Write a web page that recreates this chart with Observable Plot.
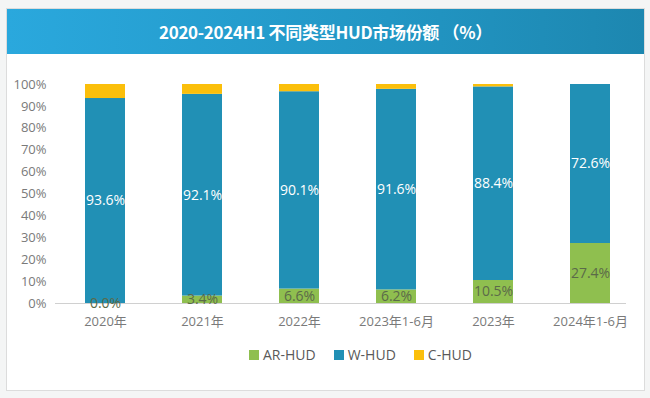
<!DOCTYPE html>
<html><head><meta charset="utf-8">
<script src="https://cdn.jsdelivr.net/npm/d3@7"></script>
<script src="https://cdn.jsdelivr.net/npm/@observablehq/plot@0.6"></script>
<style>
html,body{margin:0;padding:0;}
body{width:650px;height:398px;background:#f4f5f5;position:relative;overflow:hidden;font-family:"Open Sans","Noto Sans CJK SC",sans-serif;}
#card{position:absolute;left:6px;top:8px;width:637px;height:381px;background:#fff;border:1px solid #dcdcdc;}
#title{position:absolute;left:0;top:0;width:637px;height:45px;background:linear-gradient(90deg,#2aa8dd 0%,#2296c4 60%,#1d87b0 100%);color:#fff;font-family:"Noto Sans CJK SC",sans-serif;font-weight:700;font-size:17px;line-height:45px;text-align:center;letter-spacing:-0.3px;}
#chart{position:absolute;left:0;top:52px;}
#legend{position:absolute;left:242px;top:336px;display:flex;gap:18px;font-size:14px;color:#595959;font-family:"Open Sans","Noto Sans CJK SC",sans-serif;}
#legend span{display:flex;align-items:center;gap:4px;}
#legend i{display:inline-block;width:10px;height:10px;}
</style></head>
<body>
<div id="card">
  <div id="title">2020-2024H1 不同类型HUD市场份额 （%）</div>
  <div id="chart"></div>
  <div id="legend"></div>
</div>
<script>
const categories = ["2020年","2021年","2022年","2023年1-6月","2023年","2024年1-6月"];
const types = ["AR-HUD","W-HUD","C-HUD"];
const colors = ["#8fbf4f","#2190b5","#fbbf0b"];
const arHud = [0.0, 3.4, 6.6, 6.2, 10.5, 27.4];
const wHud  = [93.6, 92.1, 90.1, 91.6, 88.4, 72.6];
const cHud  = [6.4, 4.5, 3.3, 2.2, 1.1, 0.0];
const yTicks = [0,10,20,30,40,50,60,70,80,90,100];

const series = [arHud, wHud, cHud];
const data = [];
categories.forEach((c,i) => types.forEach((t,j) => data.push({cat:c, type:t, value:series[j][i]})));

const chart = Plot.plot({
  width: 637,
  height: 276,
  marginTop: 23,
  marginBottom: 34,
  marginLeft: 48,
  marginRight: 18,
  style: {fontFamily: '"Open Sans","Noto Sans CJK SC",sans-serif', fontSize: "13px", color: "#7a7a7a", background: "transparent"},
  x: {domain: categories, paddingInner: 0.59, paddingOuter: 0.2315, align: 0.643, label: null, tickSize: 0, tickPadding: 13},
  y: {domain: [0,100], ticks: yTicks, tickFormat: d => d + "%", label: null, tickSize: 0, tickPadding: 9},
  color: {domain: types, range: colors},
  marks: [
    Plot.barY(data, {x: "cat", y: "value", fill: "type", order: types}),
    Plot.ruleY([0], {stroke: "#d0d0d0", strokeWidth: 1.2}),
    Plot.text(data.filter(d => d.type !== "C-HUD"), Plot.stackY({
      x: "cat", y: "value", z: "type", order: types,
      text: d => d.value.toFixed(1) + "%",
      fill: d => d.type === "W-HUD" ? "#ffffff" : "#5b6a49",
      fontSize: 14
    }))
  ]
});
document.getElementById("chart").appendChild(chart);

const legend = document.getElementById("legend");
types.forEach((t,j) => {
  const s = document.createElement("span");
  s.innerHTML = `<i style="background:${colors[j]}"></i>${t}`;
  legend.appendChild(s);
});
</script>
</body></html>
